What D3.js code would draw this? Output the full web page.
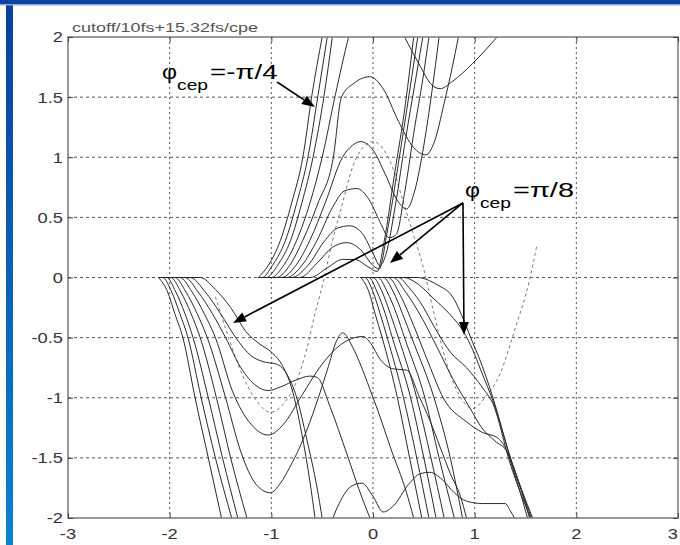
<!DOCTYPE html>
<html><head><meta charset="utf-8">
<script src="https://cdn.jsdelivr.net/npm/d3@7"></script>
<style>html,body{margin:0;padding:0;background:#fff;}svg{display:block;}</style>
</head><body>
<script>
// ---------- data ----------
const xTicks = [-3,-2,-1,0,1,2,3];
const yTicks = [-2,-1.5,-1,-0.5,0,0.5,1,1.5,2];
const xTickLabels = ["-3","-2","-1","0","1","2","3"];
const yTickLabels = ["-2","-1.5","-1","-0.5","0","0.5","1","1.5","2"];
const chartTitle = "cutoff/10fs+15.32fs/cpe";

// family rising from the plateau near x=-1.1 (phi_cep = -pi/4)
const curveA1 = [[-1.13,0],[-1.03,0.1],[-0.91,0.31],[-0.8,0.62],[-0.69,1.0],[-0.6,1.52],[-0.5,2.0]];
const curveA2 = [[-1.13,0],[-1.09,0],[-0.99,0.1],[-0.86,0.31],[-0.75,0.62],[-0.64,1.0],[-0.54,1.52],[-0.45,2.0]];
const curveA3 = [[-1.13,0],[-1.05,0],[-0.94,0.1],[-0.81,0.31],[-0.70,0.62],[-0.59,1.0],[-0.48,1.52],[-0.40,2.0]];
const curveA4 = [[-1.13,0],[-1.0,0],[-0.88,0.1],[-0.75,0.31],[-0.62,0.62],[-0.5,1.0],[-0.37,1.52],[-0.24,2.0],[-0.1,2.4],[0.1,2.35],[0.31,2.0],[0.45,1.78],[0.58,1.6],[0.66,1.57],[0.78,1.63],[0.98,1.78],[1.22,2.0]];
const curveA5 = [[-1.13,0],[-0.95,0],[-0.82,0.1],[-0.69,0.31],[-0.54,0.62],[-0.39,1.0],[-0.31,1.5],[-0.18,1.62],[-0.03,1.67],[0.1,1.57],[0.25,1.3],[0.4,1.08],[0.52,1.02],[0.6,1.12],[0.7,1.45],[0.78,1.75],[0.84,2.0]];
const curveA6 = [[-1.13,0],[-0.9,0],[-0.76,0.1],[-0.62,0.31],[-0.47,0.62],[-0.3,1.0],[-0.2,1.1],[-0.12,1.13],[0.0,1.06],[0.12,0.86],[0.24,0.64],[0.33,0.57],[0.41,0.72],[0.5,1.1],[0.58,1.55],[0.65,2.0]];
const curveA7 = [[-1.13,0],[-0.85,0],[-0.7,0.1],[-0.55,0.31],[-0.4,0.58],[-0.28,0.72],[-0.16,0.74],[-0.04,0.65],[0.07,0.46],[0.16,0.33],[0.23,0.36],[0.31,0.7],[0.41,1.25],[0.49,1.65],[0.55,2.0]];
const curveA8 = [[-1.13,0],[-0.8,0],[-0.64,0.1],[-0.48,0.3],[-0.35,0.41],[-0.23,0.43],[-0.1,0.36],[0.0,0.2],[0.07,0.1],[0.13,0.2],[0.22,0.6],[0.32,1.15],[0.42,1.65],[0.49,2.0]];
const curveA9 = [[-1.13,0],[-0.72,0],[-0.55,0.12],[-0.4,0.25],[-0.26,0.29],[-0.12,0.23],[0.0,0.1],[0.06,0.07],[0.14,0.38],[0.25,0.95],[0.36,1.55],[0.44,2.0]];
const curveA10 = [[-1.13,0],[-0.62,0],[-0.45,0.08],[-0.3,0.15],[-0.18,0.15],[-0.05,0.09],[0.04,0.05],[0.11,0.3],[0.21,0.85],[0.32,1.45],[0.4,2.0]];

// family falling from the plateau near x=-2.1
const curveB1 = [[-2.11,0],[-2.02,-0.12],[-1.95,-0.3],[-1.87,-0.5],[-1.75,-1.0],[-1.62,-1.5],[-1.49,-2.0]];
const curveB2 = [[-2.11,0],[-2.07,0],[-1.98,-0.12],[-1.9,-0.3],[-1.82,-0.5],[-1.69,-1.0],[-1.55,-1.5],[-1.39,-2.0]];
const curveB3 = [[-2.11,0],[-2.03,0],[-1.94,-0.12],[-1.85,-0.3],[-1.77,-0.5],[-1.62,-1.0],[-1.48,-1.5],[-1.33,-2.0]];
const curveB4 = [[-2.11,0],[-1.99,0],[-1.89,-0.12],[-1.79,-0.3],[-1.70,-0.5],[-1.54,-1.0],[-1.40,-1.5],[-1.24,-2.0],[-1.1,-2.4],[-0.75,-2.6],[-0.48,-2.2],[-0.35,-1.91],[-0.22,-1.74],[-0.11,-1.71],[0.0,-1.82],[0.1,-1.95],[0.2,-1.9],[0.35,-1.72],[0.47,-1.63],[0.56,-1.62],[0.68,-1.68],[0.8,-1.79],[0.92,-1.86],[1.08,-1.88],[1.3,-1.88],[1.35,-1.94],[1.39,-2.0]];
const curveB5 = [[-2.11,0],[-1.95,0],[-1.84,-0.12],[-1.73,-0.3],[-1.63,-0.5],[-1.45,-1.0],[-1.3,-1.45],[-1.15,-1.72],[-1.01,-1.79],[-0.91,-1.71],[-0.82,-1.58],[-0.72,-1.41],[-0.59,-1.13],[-0.45,-0.77],[-0.36,-0.53],[-0.3,-0.46],[-0.2,-0.58],[-0.13,-0.71],[-0.03,-0.93],[0.07,-1.16],[0.17,-1.41],[0.33,-1.79],[0.4,-2.0]];
const curveB6 = [[-2.11,0],[-1.9,0],[-1.78,-0.12],[-1.66,-0.3],[-1.55,-0.5],[-1.38,-0.95],[-1.2,-1.22],[-1.03,-1.31],[-0.88,-1.22],[-0.7,-0.98],[-0.5,-0.72],[-0.32,-0.56],[-0.18,-0.5],[-0.1,-0.49],[-0.02,-0.55],[0.07,-0.68],[0.2,-0.76],[0.33,-0.77],[0.46,-1.0],[0.56,-1.19],[0.66,-1.41],[0.76,-1.63],[0.86,-1.82],[0.92,-2.0]];
const curveB7 = [[-2.11,0],[-1.85,0],[-1.72,-0.12],[-1.58,-0.3],[-1.45,-0.5],[-1.3,-0.75],[-1.15,-0.9],[-1.03,-0.94],[-0.91,-0.91],[-0.75,-0.85],[-0.62,-0.82],[-0.55,-0.83],[-0.42,-1.08],[-0.26,-1.46],[-0.1,-1.85],[-0.03,-2.0]];
const curveB8 = [[-2.11,0],[-1.8,0],[-1.65,-0.12],[-1.5,-0.3],[-1.35,-0.5],[-1.2,-0.65],[-1.08,-0.7],[-0.95,-0.72],[-0.85,-0.8],[-0.75,-1.0],[-0.65,-1.35],[-0.55,-1.75],[-0.5,-2.0]];
const curveB9 = [[-2.11,0],[-1.7,0],[-1.55,-0.1],[-1.4,-0.25],[-1.25,-0.45],[-1.12,-0.55],[-1.0,-0.62],[-0.9,-0.72],[-0.8,-0.92],[-0.7,-1.3],[-0.62,-1.7],[-0.57,-2.0]];

// family falling from the plateau near x=0 (phi_cep = pi/8)
const curveC1 = [[-0.12,0],[-0.04,-0.12],[0.02,-0.3],[0.09,-0.5],[0.24,-1.0],[0.36,-1.5],[0.48,-2.0]];
const curveC2 = [[-0.12,0],[-0.08,0],[0.0,-0.12],[0.07,-0.3],[0.14,-0.5],[0.3,-1.0],[0.43,-1.5],[0.55,-2.0]];
const curveC3 = [[-0.12,0],[-0.04,0],[0.04,-0.12],[0.12,-0.3],[0.19,-0.5],[0.37,-1.0],[0.5,-1.5],[0.62,-2.0]];
const curveC4 = [[-0.12,0],[0.0,0],[0.09,-0.12],[0.17,-0.3],[0.25,-0.5],[0.43,-1.0],[0.57,-1.5],[0.7,-2.0]];
const curveC5 = [[-0.12,0],[0.05,0],[0.14,-0.12],[0.23,-0.3],[0.31,-0.5],[0.51,-1.0],[0.65,-1.5],[0.8,-2.0]];
const curveC6 = [[-0.12,0],[0.1,0],[0.2,-0.12],[0.29,-0.3],[0.38,-0.5],[0.6,-1.0],[0.76,-1.5],[0.88,-2.0]];
const curveC7 = [[-0.12,0],[0.43,0],[0.63,-0.06],[0.79,-0.17],[0.9,-0.37],[0.98,-0.54],[1.04,-0.66],[1.18,-1.0],[1.35,-1.5],[1.56,-2.0]];
const curveC8 = [[-0.12,0],[0.3,0],[0.45,-0.06],[0.59,-0.17],[0.76,-0.31],[0.89,-0.45],[0.98,-0.6],[1.06,-0.77],[1.19,-1.05],[1.36,-1.52],[1.57,-2.0]];
const curveC9 = [[-0.12,0],[0.25,0],[0.35,-0.08],[0.46,-0.2],[0.63,-0.45],[0.76,-0.62],[0.92,-0.75],[1.08,-0.92],[1.18,-1.05],[1.35,-1.55],[1.55,-2.0]];
const curveC10 = [[-0.12,0],[0.2,0],[0.32,-0.12],[0.49,-0.35],[0.63,-0.58],[0.79,-0.85],[0.95,-1.08],[1.07,-1.25],[1.2,-1.36],[1.32,-1.45],[1.37,-1.55],[1.54,-2.0]];
const curveC11 = [[-0.12,0],[0.15,0],[0.27,-0.15],[0.4,-0.4],[0.55,-0.72],[0.69,-1.0],[0.92,-1.2],[1.08,-1.29],[1.22,-1.33],[1.32,-1.45],[1.38,-1.6],[1.52,-2.0]];

// dashed reference (field) curve
const fieldCurve = [[-1.55,-0.16],[-1.42,-0.5],[-1.28,-0.82],[-1.15,-1.02],[-1.01,-1.12],[-0.88,-1.05],[-0.76,-0.88],[-0.65,-0.59],[-0.57,-0.3],[-0.49,-0.04],[-0.4,0.3],[-0.3,0.62],[-0.2,0.92],[-0.1,1.08],[0.0,1.13],[0.1,1.07],[0.2,0.9],[0.3,0.62],[0.4,0.35],[0.49,0.1],[0.6,-0.3],[0.72,-0.7],[0.85,-0.98],[0.98,-1.09],[1.1,-1.0],[1.25,-0.8],[1.4,-0.42],[1.54,-0.02],[1.61,0.26]];

const solidCurves = [curveA1,curveA2,curveA3,curveA4,curveA5,curveA6,curveA7,curveA8,curveA9,curveA10,
  curveB1,curveB2,curveB3,curveB4,curveB5,curveB6,curveB7,curveB8,curveB9,
  curveC1,curveC2,curveC3,curveC4,curveC5,curveC6,curveC7,curveC8,curveC9,curveC10,curveC11];

// annotations: text anchor and arrow start / tips in data units
const annotNeg = {phiAt:[-2.075,1.65], arrowFrom:[-0.944,1.626], arrowTips:[[-0.571,1.418]], value:"=-\u03c0/4"};
const annotPos = {phiAt:[0.905,0.669], arrowFrom:[0.885,0.62], arrowTips:[[0.895,-0.478],[0.167,0.12],[-1.377,-0.378]], value:"=\u03c0/8"};

// ---------- drawing ----------
const W = 680, H = 545;
const svg = d3.select("body").append("svg").attr("width", W).attr("height", H);

// frame decoration
const defs = svg.append("defs");
const grad = defs.append("linearGradient").attr("id","sideGrad").attr("x1",0).attr("y1",0).attr("x2",0).attr("y2",1);
grad.append("stop").attr("offset","0%").attr("stop-color","#0b3f9e");
grad.append("stop").attr("offset","100%").attr("stop-color","#0a82cf");
svg.append("rect").attr("x",0).attr("y",0).attr("width",W).attr("height",H).attr("fill","#fff");
svg.append("rect").attr("x",6).attr("y",0).attr("width",7).attr("height",H).attr("fill","url(#sideGrad)");
svg.append("rect").attr("x",0).attr("y",0).attr("width",W).attr("height",4).attr("fill","#0b43a3");
svg.append("rect").attr("x",0).attr("y",4).attr("width",W).attr("height",1.5).attr("fill","#8fa9d8");

const x = d3.scaleLinear().domain([-3,3]).range([68,678]);
const y = d3.scaleLinear().domain([-2,2]).range([518,37]);

defs.append("clipPath").attr("id","plotClip").append("rect")
  .attr("x",x(-3)).attr("y",y(2)).attr("width",x(3)-x(-3)).attr("height",y(-2)-y(2));

// grid
const grid = svg.append("g");
grid.selectAll("line.vg").data(xTicks.slice(1,-1)).join("line")
  .attr("x1",d=>x(d)).attr("x2",d=>x(d)).attr("y1",y(2)).attr("y2",y(-2))
  .attr("stroke","#555").attr("stroke-width",1).attr("stroke-dasharray","2,3");
grid.selectAll("line.hg").data(yTicks.slice(1,-1)).join("line")
  .attr("y1",d=>y(d)).attr("y2",d=>y(d)).attr("x1",x(-3)).attr("x2",x(3))
  .attr("stroke","#555").attr("stroke-width",1).attr("stroke-dasharray","3,3");

// curves
const line = d3.line().x(d=>x(d[0])).y(d=>y(d[1])).curve(d3.curveMonotoneX);
const plot = svg.append("g").attr("clip-path","url(#plotClip)");
plot.append("path").datum(fieldCurve).attr("d",line).attr("fill","none")
  .attr("stroke","#777").attr("stroke-width",1).attr("stroke-dasharray","3,3");
plot.selectAll("path.c").data(solidCurves).join("path").attr("class","c")
  .attr("d",line).attr("fill","none").attr("stroke","#2a2a2a").attr("stroke-width",1);

// axes box and ticks
const axisG = svg.append("g");
axisG.append("rect").attr("x",x(-3)).attr("y",y(2)).attr("width",x(3)-x(-3)).attr("height",y(-2)-y(2))
  .attr("fill","none").attr("stroke","#808080").attr("stroke-width",1.6);
const xAxB = d3.axisBottom(x).tickValues(xTicks).tickSize(-5).tickFormat("");
const xAxT = d3.axisTop(x).tickValues(xTicks).tickSize(-5).tickFormat("");
const yAxL = d3.axisLeft(y).tickValues(yTicks).tickSize(-5).tickFormat("");
const yAxR = d3.axisRight(y).tickValues(yTicks).tickSize(-5).tickFormat("");
[[xAxB,`translate(0,${y(-2)})`],[xAxT,`translate(0,${y(2)})`],[yAxL,`translate(${x(-3)},0)`],[yAxR,`translate(${x(3)},0)`]]
 .forEach(([ax,tr])=>{
   const g = axisG.append("g").attr("transform",tr).call(ax);
   g.select(".domain").remove();
   g.selectAll("line").attr("stroke","#444");
 });

// tick labels
const font = "'Liberation Sans', Arial, Helvetica, sans-serif";
svg.append("g").selectAll("text").data(yTicks).join("text")
  .attr("transform",d=>`translate(${x(-3)-5},${y(d)}) scale(1.22,1)`)
  .attr("text-anchor","end").attr("dy","0.36em")
  .attr("font-family",font).attr("font-size",15).attr("fill","#333")
  .text((d,i)=>yTickLabels[i]);
svg.append("g").selectAll("text").data(xTicks).join("text")
  .attr("transform",d=>`translate(${Math.min(x(d), W-1)},${y(-2)+21}) scale(1.22,1)`)
  .attr("text-anchor",(d,i)=> i===xTicks.length-1 ? "end" : "middle")
  .attr("font-family",font).attr("font-size",15).attr("fill","#333")
  .text((d,i)=>xTickLabels[i]);

// title
svg.append("text").attr("x",x(-3)+4).attr("y",y(2)-5)
  .attr("font-family",font).attr("font-size",13).attr("fill","#555")
  .attr("textLength",186).attr("lengthAdjust","spacingAndGlyphs")
  .text(chartTitle);

// annotations
function arrow(g, from, tip){
  const x0 = x(from[0]), y0 = y(from[1]), x1 = x(tip[0]), y1 = y(tip[1]);
  const ang = Math.atan2(y1-y0, x1-x0);
  const L = 13, Wd = 5;
  const bx = x1 - L*Math.cos(ang), by = y1 - L*Math.sin(ang);
  g.append("line").attr("x1",x0).attr("y1",y0).attr("x2",bx).attr("y2",by)
    .attr("stroke","#000").attr("stroke-width",1.6);
  g.append("path").attr("d",`M${x1},${y1}L${bx - Wd*Math.sin(ang)},${by + Wd*Math.cos(ang)}L${bx + Wd*Math.sin(ang)},${by - Wd*Math.cos(ang)}Z`)
    .attr("fill","#000");
}
function annotation(a){
  const g = svg.append("g");
  const px = x(a.phiAt[0]), py = y(a.phiAt[1]);
  g.append("text").attr("x",px).attr("y",py).attr("font-family",font).attr("font-size",21)
    .attr("fill","#000").attr("textLength",15).attr("lengthAdjust","spacingAndGlyphs").text("\u03c6");
  g.append("text").attr("x",px+15).attr("y",py+11).attr("font-family",font).attr("font-size",15)
    .attr("fill","#000").attr("textLength",31).attr("lengthAdjust","spacingAndGlyphs").text("cep");
  g.append("text").attr("x",px+48).attr("y",py).attr("font-family",font).attr("font-size",20)
    .attr("fill","#000").attr("textLength",a.value.length*13.5+(a.value.length>4?0:7)).attr("lengthAdjust","spacingAndGlyphs").text(a.value);
  a.arrowTips.forEach(t=>arrow(g, a.arrowFrom, t));
}
annotation(annotNeg);
annotation(annotPos);
</script>
</body></html>
